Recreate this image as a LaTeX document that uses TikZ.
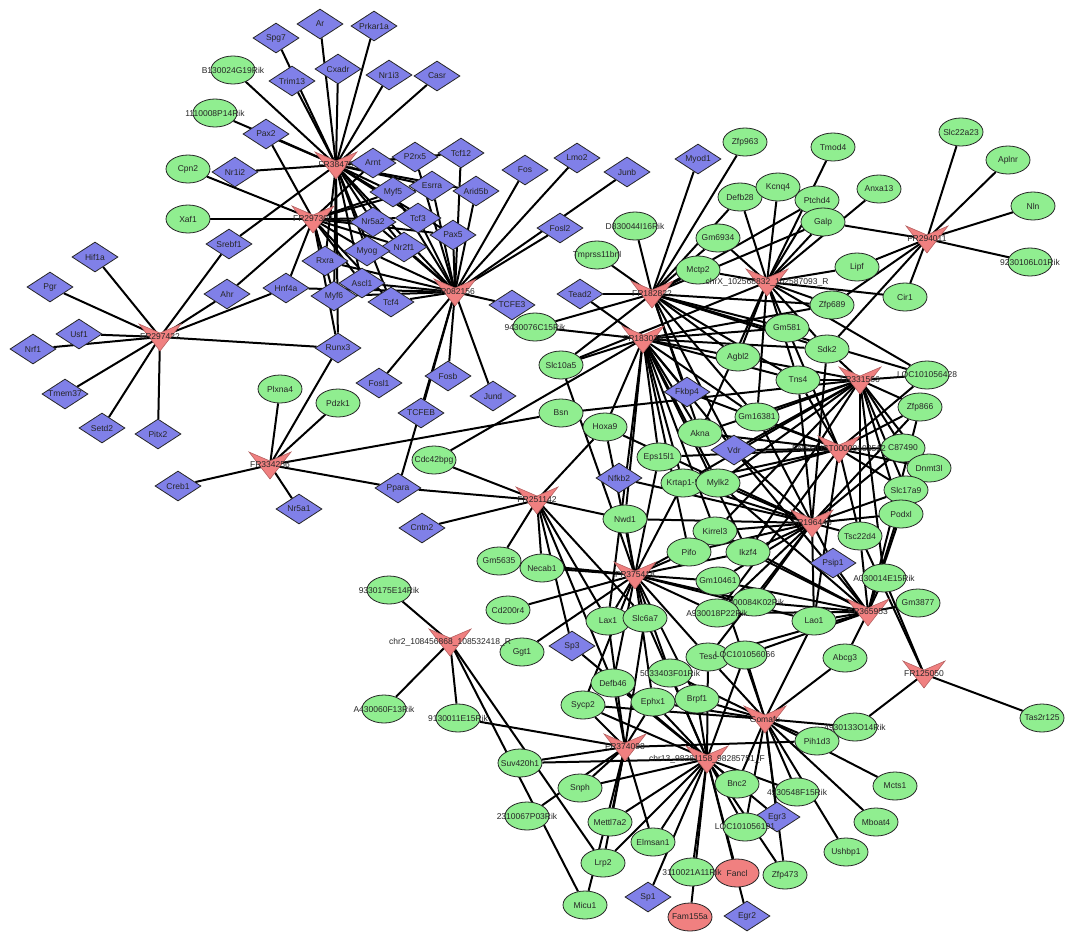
\documentclass[tikz,border=0pt]{standalone}
\usepackage{fontspec}
\setmainfont{Liberation Sans}
\usetikzlibrary{shapes.geometric,backgrounds}
\definecolor{genegreen}{RGB}{144,238,144}
\definecolor{tfblue}{RGB}{128,128,232}
\definecolor{hubred}{RGB}{240,128,128}
\tikzset{
  lbl/.style={font=\fontsize{8.5}{10}\selectfont, text=black!85, inner sep=0pt},
  gene/.style={ellipse, draw=black!85, line width=0.8pt, fill=genegreen, minimum width=44pt, minimum height=28pt, inner sep=0pt, label={[lbl]center:#1}},
  redgene/.style={gene={#1}, fill=hubred},
  tf/.style={diamond, draw=black!85, line width=0.8pt, fill=tfblue, minimum width=46pt, minimum height=30pt, inner sep=0pt, label={[lbl]center:#1}},
  hub/.style={lbl},
  hubv/.style={fill=hubred, draw=hubred!75!black, line width=0.6pt},
  edge/.style={line width=2pt, black}
}
\begin{document}
\begin{tikzpicture}[x=1pt,y=-1pt]
\useasboundingbox (0,0) rectangle (1068,932);

% transcription factors
\node[tf=Spg7] (spg7) at (276,38) {};
\node[tf=Ar] (ar) at (320,24) {};
\node[tf=Prkar1a] (prkar1a) at (374,26) {};
\node[tf=Trim13] (trim13) at (292,81) {};
\node[tf=Cxadr] (cxadr) at (338,69) {};
\node[tf=Nr1i3] (nr1i3) at (389,75) {};
\node[tf=Casr] (casr) at (437,76) {};
\node[tf=Pax2] (rarg2) at (266,134) {};
\node[tf=Nr1i2] (nr1i2) at (235,172) {};
\node[tf=Arnt] (arnt) at (373,163) {};
\node[tf=P2rx5] (p2rx5) at (415,157) {};
\node[tf=Tcf12] (tcf12) at (461,153) {};
\node[tf=Myf5] (myf5) at (393,192) {};
\node[tf=Esrra] (esrra) at (432,186) {};
\node[tf=Arid5b] (arid5b) at (476,191) {};
\node[tf=Nr5a2] (nr5a2) at (373,222) {};
\node[tf=Tcf3] (tcf3) at (418,218) {};
\node[tf=Pax5] (pax5) at (453,235) {};
\node[tf=Nr2f1] (nr2f1) at (404,247) {};
\node[tf=Myog] (myog) at (367,251) {};
\node[tf=Rxra] (rxra) at (325,261) {};
\node[tf=Ascl1] (ascl1) at (362,283) {};
\node[tf=Myf6] (myf6) at (334,296) {};
\node[tf=Tcf4] (tcf4) at (391,302) {};
\node[tf=Hnf4a] (hnf4a) at (286,288) {};
\node[tf=Fos] (fos) at (525,170) {};
\node[tf=Lmo2] (lmo2) at (577,158) {};
\node[tf=Junb] (junb) at (627,172) {};
\node[tf=Fosl2] (fosl2) at (560,228) {};
\node[tf=Myod1] (myod1) at (698,159) {};
\node[tf=TCFE3] (tcfe3) at (512,305) {};
\node[tf=Runx3] (runx3) at (338,348) {};
\node[tf=Fosl1] (fosl1) at (379,383) {};
\node[tf=Fosb] (fosb) at (448,376) {};
\node[tf=Jund] (jund) at (493,396) {};
\node[tf=TCFEB] (tcfeb) at (421,413) {};
\node[tf=Srebf1] (srebf1) at (229,244) {};
\node[tf=Ahr] (ahr) at (227,294) {};
\node[tf=Hif1a] (hif1a) at (95,257) {};
\node[tf=Pgr] (pgr) at (50,287) {};
\node[tf=Usf1] (usf1) at (79,334) {};
\node[tf=Nrf1] (nrf1) at (33,349) {};
\node[tf=Tmem37] (tmem37) at (65,394) {};
\node[tf=Setd2] (setd2) at (102,428) {};
\node[tf=Pitx2] (pitx2) at (158,434) {};
\node[tf=Creb1] (creb1) at (178,486) {};
\node[tf=Nr5a1] (nr5a1) at (299,509) {};
\node[tf=Ppara] (ppara) at (398,488) {};
\node[tf=Cntn2] (cntn2) at (422,528) {};
\node[tf=Tead2] (tead2) at (580,294) {};
\node[tf=Nfkb2] (nfkb2) at (619,478) {};
\node[tf=Fkbp4] (fkbp4) at (687,392) {};
\node[tf=Vdr] (vdr) at (734,450) {};
\node[tf=Psip1] (psip1) at (833,563) {};
\node[tf=Sp3] (sp3) at (572,646) {};
\node[tf=Egr3] (egr3) at (777,817) {};
\node[tf=Sp1] (sp1) at (648,897) {};
\node[tf=Egr2] (egr2) at (747,916) {};

% genes
\node[gene=B130024G19Rik] (b130) at (233,70) {};
\node[gene=1110008P14Rik] (r1110) at (215,113) {};
\node[gene=Cpn2] (cpn2) at (188,169) {};
\node[gene=Xaf1] (xaf1) at (188,219) {};
\node[gene=Plxna4] (plxna4) at (280,389) {};
\node[gene=Pdzk1] (pdzk1) at (338,403) {};
\node[gene=Cdc42bpg] (cdc42bpg) at (434,460) {};
\node[gene=Bsn] (bsn) at (561,413) {};
\node[gene=9430076C15Rik] (r9430) at (535,327) {};
\node[gene=Slc10a5] (slc10a5) at (561,365) {};
\node[gene=Hoxa9] (hoxa9) at (605,427) {};
\node[gene=Tmprss11bnl] (tmprss) at (597,255) {};
\node[gene=D830044I16Rik] (d830) at (635,226) {};
\node[gene=Zfp963] (zfp963) at (745,142) {};
\node[gene=Defb28] (defb28) at (740,197) {};
\node[gene=Kcnq4] (kcnq4) at (778,187) {};
\node[gene=Tmod4] (tmod4) at (833,147) {};
\node[gene=Ptchd4] (ptchd4) at (817,200) {};
\node[gene=Galp] (galp) at (823,222) {};
\node[gene=Anxa13] (anxa13) at (879,189) {};
\node[gene=Slc22a23] (slc22a23) at (961,132) {};
\node[gene=Aplnr] (aplnr) at (1008,160) {};
\node[gene=Nln] (nln) at (1033,206) {};
\node[gene=9230106L01Rik] (r9230) at (1030,262) {};
\node[gene=Gm6934] (gm6934) at (718,238) {};
\node[gene=Mctp2] (mctp2) at (698,270) {};
\node[gene=Lipf] (lipf) at (857,267) {};
\node[gene=Cir1] (cir1) at (905,297) {};
\node[gene=Zfp689] (zfp689) at (832,305) {};
\node[gene=Gm581] (gm581) at (787,328) {};
\node[gene=Sdk2] (sdk2) at (827,349) {};
\node[gene=Agbl2] (agbl2) at (738,357) {};
\node[gene=Tns4] (tns4) at (798,380) {};
\node[gene=LOC101056428] (loc428) at (927,375) {};
\node[gene=Zfp866] (zfp866) at (920,407) {};
\node[gene=Gm16381] (gm16381) at (757,417) {};
\node[gene=Akna] (akna) at (700,433) {};
\node[gene=Eps15l1] (eps15l1) at (659,457) {};
\node[gene=Krtap1-5] (krtap) at (683,483) {};
\node[gene=Mylk2] (mylk2) at (718,483) {};
\node[gene=C87490] (c87490) at (903,448) {};
\node[gene=Dnmt3l] (dnmt3l) at (929,468) {};
\node[gene=Slc17a9] (slc17a9) at (906,490) {};
\node[gene=Podxl] (podxl) at (901,514) {};
\node[gene=Tsc22d4] (tsc22d4) at (860,536) {};
\node[gene=A030014E15Rik] (a030) at (884,578) {};
\node[gene=Gm3877] (gm3877) at (918,603) {};
\node[gene=Lao1] (lao1) at (814,621) {};
\node[gene=Abcg3] (abcg3) at (845,658) {};
\node[gene=Nwd1] (nwd1) at (625,519) {};
\node[gene=Kirrel3] (kirrel3) at (715,531) {};
\node[gene=Pifo] (pifo) at (689,552) {};
\node[gene=Ikzf4] (ikzf4) at (748,552) {};
\node[gene=Gm10461] (gm10461) at (718,581) {};
\node[gene=1700084K02Rik] (r1700) at (754,602) {};
\node[gene=A930018P22Rik] (a930) at (717,613) {};
\node[gene=Necab1] (necab1) at (542,568) {};
\node[gene=Gm5635] (gm5635) at (499,561) {};
\node[gene=Cd200r4] (cd200r4) at (508,610) {};
\node[gene=Ggt1] (ggt1) at (522,652) {};
\node[gene=Lax1] (lax1) at (608,621) {};
\node[gene=Slc6a7] (slc6a7) at (645,618) {};
\node[gene=Tesc] (tesc) at (708,657) {};
\node[gene=LOC101056066] (loc066) at (745,655) {};
\node[gene=5033403F01Rik] (r5033) at (670,673) {};
\node[gene=Defb46] (defb46) at (613,683) {};
\node[gene=Sycp2] (sycp2) at (583,705) {};
\node[gene=Ephx1] (ephx1) at (653,702) {};
\node[gene=Brpf1] (brpf1) at (697,699) {};
\node[gene=Pih1d3] (pih1d3) at (817,741) {};
\node[gene=4930133O14Rik] (r4930133) at (855,727) {};
\node[gene=Mcts1] (mcts1) at (895,786) {};
\node[gene=Mboat4] (mboat4) at (876,822) {};
\node[gene=Ushbp1] (ushbp1) at (846,852) {};
\node[gene=4930548F15Rik] (r4930548) at (797,792) {};
\node[gene=Bnc2] (bnc2) at (737,784) {};
\node[gene=LOC101056191] (loc191) at (745,827) {};
\node[gene=Zfp473] (zfp473) at (785,875) {};
\node[redgene=Fancl] (fancl) at (737,873) {};
\node[redgene=Fam155a] (fam155a) at (690,917) {};
\node[gene=3110021A11Rik] (r3110) at (692,872) {};
\node[gene=Elmsan1] (elmsan1) at (653,842) {};
\node[gene=Mettl7a2] (mettl7a2) at (610,822) {};
\node[gene=Lrp2] (lrp2) at (603,863) {};
\node[gene=Micu1] (micu1) at (585,905) {};
\node[gene=Snph] (snph) at (580,788) {};
\node[gene=Suv420h1] (suv420h1) at (520,763) {};
\node[gene=2310067P03Rik] (r2310) at (527,816) {};
\node[gene=9130011E15Rik] (r9130) at (458,718) {};
\node[gene=A430060F13Rik] (a430) at (384,709) {};
\node[gene=9330175E14Rik] (r9330) at (389,590) {};
\node[gene=Tas2r125] (tas2r125) at (1042,718) {};

% regulators
\node[hub] (h1) at (336,165) {FR38475};
\node[hub] (h2) at (313,219) {FR297302};
\node[hub] (h3) at (455,292) {FR082156};
\node[hub] (h4) at (160,337) {FR297422};
\node[hub] (h5) at (270,465) {FR334256};
\node[hub] (h6) at (537,500) {FR251142};
\node[hub] (h7) at (652,294) {FR182822};
\node[hub] (h8) at (643,339) {FR183036};
\node[hub] (h9) at (767,282) {chrX\_102568832\_102587093\_R};
\node[hub] (h10) at (927,239) {FR294011};
\node[hub] (h11) at (860,380) {FR331566};
\node[hub] (h12) at (839,449) {ENSMUST00000102512};
\node[hub] (h13) at (812,523) {FR196446};
\node[hub] (h14) at (868,612) {FR365953};
\node[hub] (h15) at (924,674) {FR125050};
\node[hub] (h16) at (635,575) {FR375418};
\node[hub] (h17) at (625,747) {FR374098};
\node[hub] (h18) at (707,759) {chr13\_98281158\_98285751\_F};
\node[hub] (h19) at (765,719) {Gomafu};
\node[hub] (h20) at (450,642) {chr2\_108456868\_108532418\_R};

\begin{scope}[on background layer]
\foreach \l in {spg7,ar,prkar1a,trim13,cxadr,nr1i3,casr,b130,r1110,rarg2,nr1i2,srebf1,arnt,p2rx5,tcf12,myf5,esrra,arid5b,nr5a2,tcf3,pax5,nr2f1,myog,rxra,ascl1,myf6,tcf4,runx3,h3.center}
  \draw[edge] (h1.center) -- (\l);
\foreach \l in {xaf1,cpn2,rarg2,ahr,hnf4a,runx3,arnt,myf5,nr5a2,tcf3,pax5,myog,nr2f1,rxra,ascl1,tcf4,myf6,esrra}
  \draw[edge] (h2.center) -- (\l);
\foreach \l in {fos,lmo2,junb,fosl2,tcfe3,fosl1,fosb,jund,ppara,tcfeb,tcf12,arid5b,pax5,esrra,tcf3,nr2f1,myog,p2rx5,ascl1,tcf4,myf6,hnf4a,rxra,myf5,nr5a2}
  \draw[edge] (h3.center) -- (\l);
\foreach \l in {hif1a,pgr,usf1,nrf1,tmem37,setd2,pitx2,srebf1,ahr,hnf4a,runx3}
  \draw[edge] (h4.center) -- (\l);
\foreach \l in {plxna4,pdzk1,runx3,creb1,nr5a1,ppara,bsn}
  \draw[edge] (h5.center) -- (\l);
\foreach \l in {ppara,cdc42bpg,cntn2,gm5635,necab1,sp3,hoxa9,nwd1,lax1,slc6a7,defb46}
  \draw[edge] (h6.center) -- (\l);
\foreach \l in {tmprss,d830,myod1,zfp963,gm6934,mctp2,tead2,r9430,slc10a5,gm581,agbl2,tns4,zfp689,sdk2,fkbp4,akna,gm16381,vdr,galp,ptchd4,loc428,defb28}
  \draw[edge] (h7.center) -- (\l);
\foreach \l in {tead2,r9430,slc10a5,hoxa9,cdc42bpg,nwd1,eps15l1,krtap,akna,fkbp4,vdr,gm16381,tns4,agbl2,gm581,sdk2,ikzf4,kirrel3,pifo,mylk2,zfp689,lax1}
  \draw[edge] (h8.center) -- (\l);
\foreach \l in {defb28,kcnq4,tmod4,ptchd4,galp,anxa13,gm6934,mctp2,lipf,cir1,zfp689,gm581,tns4,agbl2,gm16381,akna,loc428,sdk2,slc10a5}
  \draw[edge] (h9.center) -- (\l);
\foreach \l in {slc22a23,aplnr,nln,r9230,galp,lipf,cir1,sdk2,zfp689}
  \draw[edge] (h10.center) -- (\l);
\foreach \l in {loc428,zfp866,tns4,sdk2,gm16381,bsn,vdr,akna,agbl2,c87490,dnmt3l,slc17a9,podxl,tsc22d4,ikzf4,mylk2,krtap,kirrel3,a030}
  \draw[edge] (h11.center) -- (\l);
\foreach \l in {c87490,dnmt3l,slc17a9,tsc22d4,zfp866,loc428,tns4,gm16381,vdr,akna,krtap,mylk2,eps15l1,gm581,fkbp4,lao1,a930}
  \draw[edge] (h12.center) -- (\l);
\foreach \l in {podxl,slc17a9,tsc22d4,psip1,lao1,kirrel3,ikzf4,gm10461,pifo,nwd1,mylk2,krtap,gm16381,sdk2,tns4,zfp866,r1700,a930,tesc,vdr,c87490,nfkb2,hoxa9}
  \draw[edge] (h13.center) -- (\l);
\foreach \l in {gm3877,a030,abcg3,lao1,psip1,tsc22d4,podxl,slc17a9,ikzf4,gm10461,r1700,a930,kirrel3,tesc,loc066,vdr,mylk2,zfp866}
  \draw[edge] (h14.center) -- (\l);
\foreach \l in {a030,tsc22d4,tas2r125,r4930133}
  \draw[edge] (h15.center) -- (\l);
\foreach \l in {nwd1,hoxa9,slc10a5,necab1,cd200r4,ggt1,lax1,slc6a7,pifo,kirrel3,gm10461,r1700,a930,defb46,sycp2,ephx1,r5033,brpf1,tesc,eps15l1,krtap,ikzf4,lao1,gm5635}
  \draw[edge] (h16.center) -- (\l);
\foreach \l in {snph,mettl7a2,lrp2,micu1,elmsan1,sycp2,defb46,suv420h1,r2310,r9130,ephx1,pih1d3,slc6a7,lax1}
  \draw[edge] (h17.center) -- (\l);
\foreach \l in {brpf1,ephx1,r5033,tesc,snph,mettl7a2,elmsan1,r3110,fancl,fam155a,egr2,sp1,zfp473,loc191,egr3,bnc2,r4930548,suv420h1,lrp2,defb46,sycp2,sp3,loc066,slc6a7}
  \draw[edge] (h18.center) -- (\l);
\foreach \l in {abcg3,lao1,loc066,tesc,brpf1,r5033,pih1d3,r4930133,mcts1,mboat4,ushbp1,r4930548,zfp473,loc191,egr3,bnc2,ephx1,sycp2,gm10461}
  \draw[edge] (h19.center) -- (\l);
\foreach \l in {r9330,a430,r9130,micu1,lrp2}
  \draw[edge] (h20.center) -- (\l);
% the V marks of the regulators
\foreach \i in {1,...,20}
  \filldraw[hubv] (h\i.center) +(-21,-13) -- +(0,-4) -- +(21,-13) -- +(0,14) -- cycle;
\end{scope}
\end{tikzpicture}
\end{document}
